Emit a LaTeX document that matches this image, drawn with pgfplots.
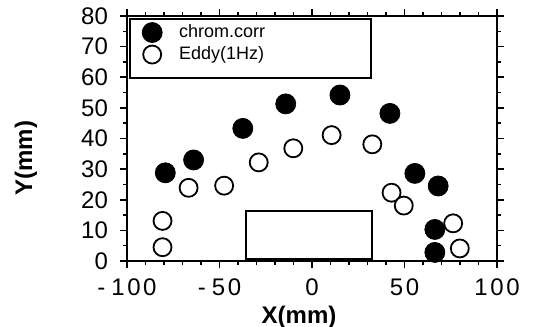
\documentclass[border=0pt]{standalone}
\usepackage{fontspec}
\setmainfont{Liberation Sans}
\usepackage{pgfplots}
\usepackage{pgfplotstable}
\pgfplotsset{compat=1.18}

% chromatic-correction measurements
\pgfplotstableread{
x y
-79.3 28.8
-64.0 33.0
-37.4 43.3
-14.2 51.3
15.1 54.2
42.1 48.2
55.6 28.6
68.2 24.5
66.4 10.3
66.4 2.8
}\chromcorr

% eddy-current measurements at 1 Hz
\pgfplotstableread{
x y
-80.8 13.1
-80.8 4.5
-66.7 23.9
-47.5 24.6
-28.8 32.2
-10.1 36.8
10.6 41.1
32.6 38.1
43.0 22.3
49.6 18.1
76.3 12.3
79.9 4.1
}\eddy

\newcommand{\dsp}{\hspace{1.3pt}}

\begin{document}
\begin{tikzpicture}
\begin{axis}[
  at={(0,0)}, anchor=south west,
  scale only axis, width=185pt, height=122.5pt,
  xmin=-100, xmax=100, ymin=0, ymax=80,
  xtick={-100,-50,0,50,100},
  xticklabels={{-\hspace{3pt}1\dsp0\dsp0},{-\hspace{3pt}5\dsp0},{0},{5\dsp0},{1\dsp0\dsp0}},
  minor x tick num=4,
  ytick={0,10,...,80},
  minor y tick num=1,
  tick align=outside,
  major tick length=3.5pt, minor tick length=2pt,
  tick style={line width=0.8pt, black},
  axis line style={line width=1.2pt},
  every tick label/.append style={font=\fontsize{12}{14}\selectfont},
  xticklabel style={yshift=-2pt},
  yticklabel style={xshift=-2.5pt},
  /pgf/number format/assume math mode=true,
  xlabel={X(mm)}, ylabel={Y(mm)},
  label style={font=\fontsize{12}{14}\selectfont\bfseries},
  xlabel style={at={(axis description cs:0.465,-0.2286)}, anchor=center},
  ylabel style={at={(axis description cs:-0.273,0.42)}, anchor=center},
  legend style={at={(axis cs:-92,78)}, anchor=north west, draw=none, fill=none,
    inner sep=0pt, row sep=1.5pt, column sep=8pt,
    font=\fontsize{9}{10}\selectfont, nodes={inner sep=0.5pt}},
  legend cell align=left,
  legend image code/.code={\draw[#1] plot coordinates {(0pt,0pt)};},
]
\draw[line width=1pt] (axis cs:-98.6,59.6) rectangle (axis cs:31.8,79);
\draw[line width=1pt] (axis cs:-35.8,0.8) rectangle (axis cs:32.7,16.3);
\addplot[only marks, mark=*, mark size=5pt, black, mark options={fill=black}] table {\chromcorr};
\addlegendentry{chrom.corr}
\addplot[only marks, mark=*, mark size=4.5pt, black, mark options={fill=white, draw=black, line width=0.9pt}] table {\eddy};
\addlegendentry{Eddy(1Hz)}
\end{axis}
\pgfresetboundingbox
\path ([shift={(-63.5pt,-32.5pt)}]current axis.south west) rectangle ([shift={(18pt,8pt)}]current axis.north east);
\end{tikzpicture}
\end{document}
